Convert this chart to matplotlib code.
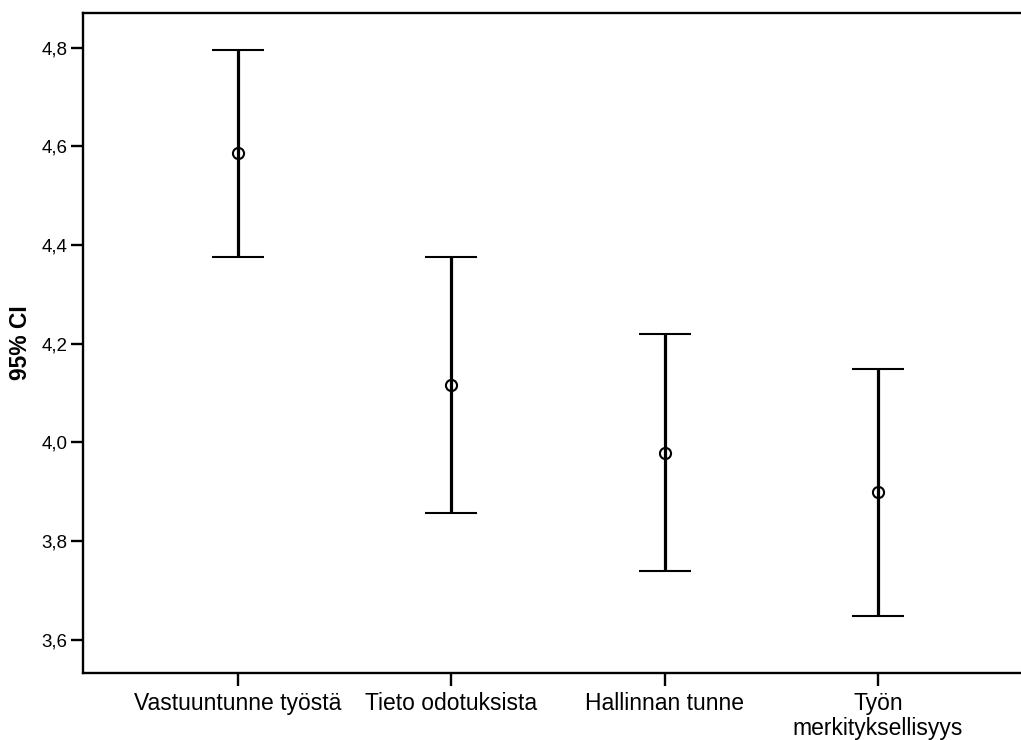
import numpy as np
import matplotlib.pyplot as plt

plt.rcParams['font.family'] = ['Liberation Sans', 'DejaVu Sans']

categories = ["Vastuuntunne työstä", "Tieto odotuksista", "Hallinnan tunne",
              "Työn\nmerkityksellisyys"]
means = [4.586, 4.117, 3.979, 3.900]
lower = [4.376, 3.857, 3.740, 3.649]
upper = [4.795, 4.376, 4.220, 4.149]

W, H = 1021, 740
fig = plt.figure(figsize=(W / 100, H / 100), dpi=100)
ax = fig.add_axes([83 / W, (H - 673) / H, (1030 - 83) / W, (673 - 13) / H])

x = np.arange(len(categories))
means = np.array(means)
yerr = np.vstack([means - np.array(lower), np.array(upper) - means])

ax.errorbar(x, means, yerr=yerr, fmt='o', color='black', ecolor='black',
            elinewidth=2.3, capsize=19, capthick=2.0,
            markersize=8, markerfacecolor='none', markeredgewidth=1.5)

ax.set_xlim(-0.727, 3 + (1030 - 878) / 213.3)
ax.set_ylim(3.533, 4.870)
ax.set_yticks([3.6, 3.8, 4.0, 4.2, 4.4, 4.6, 4.8])
ax.set_yticklabels([f"{v:.1f}".replace('.', ',') for v in ax.get_yticks()],
                   fontsize=13.5)
ax.set_xticks(x)
ax.set_xticklabels(categories, fontsize=16.5, linespacing=1.1)
ax.tick_params(axis='both', direction='out', length=9, width=1.7, color='black')
ax.tick_params(axis='x', pad=5)
ax.tick_params(axis='y', pad=2)

for side in ['left', 'bottom', 'top']:
    ax.spines[side].set_linewidth(1.7)
ax.spines['right'].set_visible(False)

ax.set_ylabel("95% CI", fontsize=16.5, fontweight='bold', labelpad=7)

fig.savefig("out.png", dpi=100)
